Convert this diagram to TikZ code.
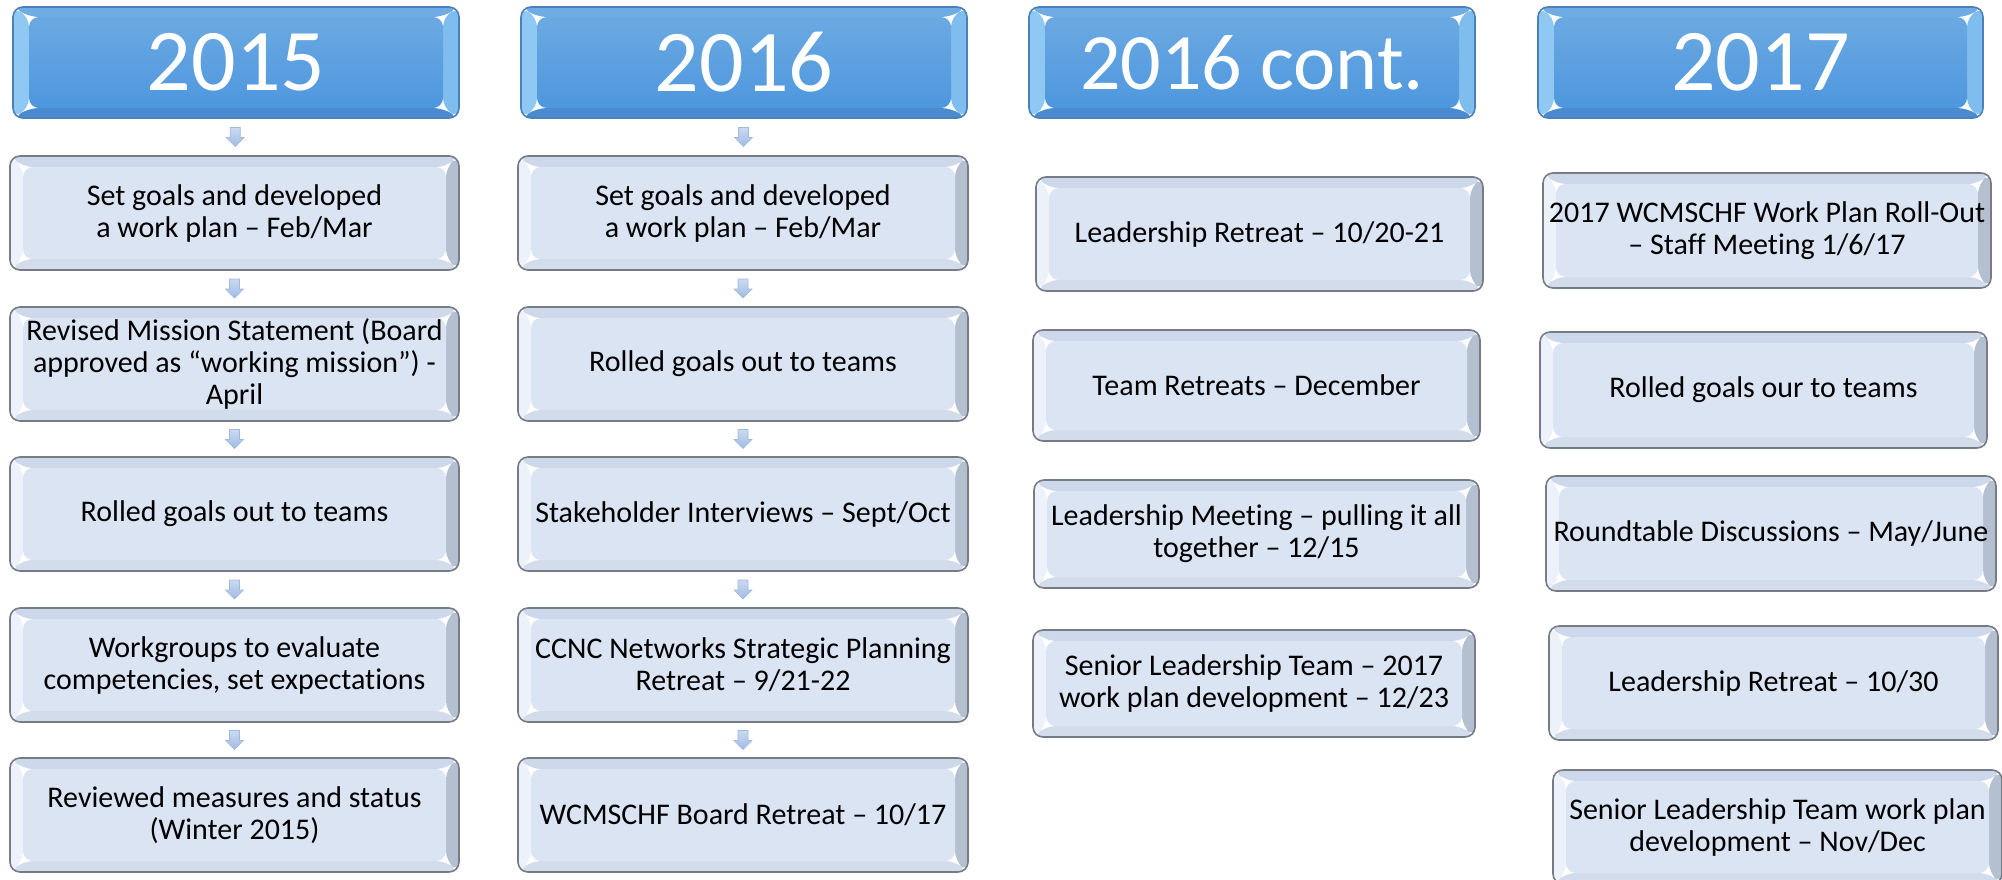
\documentclass[tikz,border=0pt]{standalone}
\usepackage{fontspec}
\setmainfont{Carlito}[Ligatures={NoCommon,TeX}]
\usetikzlibrary{calc}
\definecolor{hdrline}{HTML}{4C80B8}
\definecolor{hdrleft}{HTML}{8FC8F3}
\definecolor{hdrright}{HTML}{80BDEF}
\definecolor{hdrtop}{HTML}{6FACE3}
\definecolor{hdrbot}{HTML}{4A8BCF}
\definecolor{hdrfacetop}{HTML}{6BA9E2}
\definecolor{hdrfacebot}{HTML}{4E97DE}
\definecolor{boxface}{HTML}{DAE4F3}
\definecolor{boxline}{HTML}{767C86}
\definecolor{boxleft}{HTML}{EDF2FA}
\definecolor{boxright}{HTML}{B4BFD0}
\definecolor{boxtop}{HTML}{CDD8EA}
\definecolor{boxbot}{HTML}{D3DCEB}
\definecolor{arrtop}{HTML}{CADAF1}
\definecolor{arrbot}{HTML}{9FBBE3}
\definecolor{arrline}{HTML}{A3B9DA}

% #1 inset x, #2 inset y, #3 left, #4 right, #5 top, #6 bottom, #7 face top, #8 face bottom
\newcommand\bevelpic[8]{%
  \coordinate (NW) at (path picture bounding box.north west);
  \coordinate (NE) at (path picture bounding box.north east);
  \coordinate (SW) at (path picture bounding box.south west);
  \coordinate (SE) at (path picture bounding box.south east);
  \coordinate (iNW) at ($(NW)+(#1,#2)$);
  \coordinate (iNE) at ($(NE)+(-#1,#2)$);
  \coordinate (iSW) at ($(SW)+(#1,-#2)$);
  \coordinate (iSE) at ($(SE)+(-#1,-#2)$);
  \fill[#5] (NW) -- (NE) -- (iNE) -- (iNW) -- cycle;
  \fill[#6] (SW) -- (SE) -- (iSE) -- (iSW) -- cycle;
  \fill[#3] (NW) -- (iNW) -- (iSW) -- (SW) -- cycle;
  \fill[#4] (NE) -- (iNE) -- (iSE) -- (SE) -- cycle;
  \shade[top color=#7, bottom color=#8] (iNW) rectangle (iSE);
}

\tikzset{
  hdr/.style={draw=hdrline, line width=1.6pt, rounded corners=10pt,
    minimum height=111pt, inner sep=0pt, text=white,
    font=\fontsize{88}{88}\selectfont,
    path picture={\bevelpic{16}{10}{hdrleft}{hdrright}{hdrtop}{hdrbot}{hdrfacetop}{hdrfacebot}}},
  ebox/.style={draw=boxline, line width=1.6pt, rounded corners=10pt,
    minimum width=449pt, minimum height=114pt, inner sep=0pt, align=center,
    text=black, font=\fontsize{30}{32}\selectfont,
    path picture={\bevelpic{13}{11}{boxleft}{boxright}{boxtop}{boxbot}{boxface}{boxface}}},
  darr/.style={draw=arrline, line width=0.6pt, top color=arrtop, bottom color=arrbot}
}

\newcommand\downarr[2]{%
  \coordinate (#1-#2) at ($(#1.south)!0.5!(#2.north)$);
  \path[darr] ([shift={(-5,-9.5)}]#1-#2) -- ([shift={(5,-9.5)}]#1-#2)
    -- ([shift={(5,0.5)}]#1-#2) -- ([shift={(9,0.5)}]#1-#2)
    -- ([shift={(0,9.5)}]#1-#2) -- ([shift={(-9,0.5)}]#1-#2)
    -- ([shift={(-5,0.5)}]#1-#2) -- cycle;
}

\begin{document}
\begin{tikzpicture}[x=1pt,y=-1pt]
\fill[white] (0,0) rectangle (2002,879);
\useasboundingbox (0,0) rectangle (2002,879);

% Column 1
\node (h1) [hdr, minimum width=446pt] at (236,62.5) {2015};
\node (a1) [ebox] at (234.5,213) {Set goals and developed\\a work plan – Feb/Mar};
\node (a2) [ebox] at (234.5,364) {Revised Mission Statement (Board\\approved as “working mission”) -\\April};
\node (a3) [ebox] at (234.5,514) {Rolled goals out to teams};
\node (a4) [ebox] at (234.5,665) {Workgroups to evaluate\\competencies, set expectations};
\node (a5) [ebox] at (234.5,815) {Reviewed measures and status\\(Winter 2015)};
\downarr{h1}{a1}
\downarr{a1}{a2}
\downarr{a2}{a3}
\downarr{a3}{a4}
\downarr{a4}{a5}

% Column 2
\node (h2) [hdr, minimum width=446pt] at (744,62.5) {2016};
\node (b1) [ebox, minimum width=450pt] at (743,213) {Set goals and developed\\a work plan – Feb/Mar};
\node (b2) [ebox, minimum width=450pt] at (743,364) {Rolled goals out to teams};
\node (b3) [ebox, minimum width=450pt] at (743,514) {Stakeholder Interviews – Sept/Oct};
\node (b4) [ebox, minimum width=450pt] at (743,665) {CCNC Networks Strategic Planning\\Retreat – 9/21-22};
\node (b5) [ebox, minimum width=450pt] at (743,815) {WCMSCHF Board Retreat – 10/17};
\downarr{h2}{b1}
\downarr{b1}{b2}
\downarr{b2}{b3}
\downarr{b3}{b4}
\downarr{b4}{b5}

% Column 3
\node (h3) [hdr, minimum width=446pt, font=\fontsize{80}{80}\selectfont] at (1252,62.5) {2016 cont.};
\node (c1) [ebox, minimum width=447pt, minimum height=114pt] at (1259.5,234) {Leadership Retreat – 10/20-21};
\node (c2) [ebox, minimum width=447pt, minimum height=111pt] at (1256.5,385.5) {Team Retreats – December};
\node (c3) [ebox, minimum width=445pt, minimum height=108pt] at (1256.5,534) {Leadership Meeting – pulling it all\\together – 12/15};
\node (c4) [ebox, minimum width=442pt, minimum height=107pt] at (1254,683.5) {Senior Leadership Team – 2017\\work plan development – 12/23};

% Column 4
\node (h4) [hdr, minimum width=445pt] at (1760.5,62.5) {2017};
\node (d1) [ebox, minimum width=448pt, minimum height=115pt] at (1767,230.5) {2017 WCMSCHF Work Plan Roll-Out\\– Staff Meeting 1/6/17};
\node (d2) [ebox, minimum width=447pt, minimum height=116pt] at (1763.5,390) {Rolled goals our to teams};
\node (d3) [ebox, minimum width=450pt, minimum height=115pt] at (1771,533.5) {Roundtable Discussions – May/June};
\node (d4) [ebox, minimum width=449pt, minimum height=114pt] at (1773.5,683) {Leadership Retreat – 10/30};
\node (d5) [ebox, minimum width=449pt, minimum height=114pt] at (1777.5,827) {Senior Leadership Team work plan\\development – Nov/Dec};
\end{tikzpicture}
\end{document}
